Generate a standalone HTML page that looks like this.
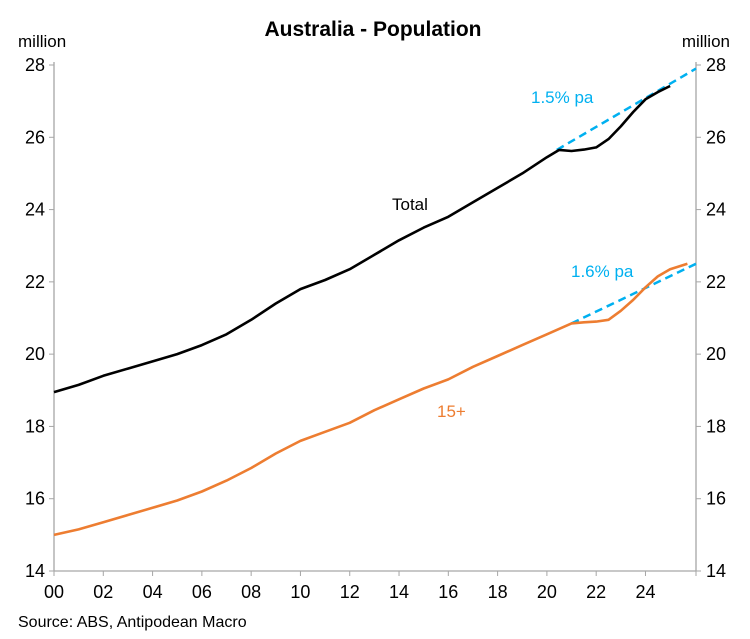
<!DOCTYPE html>
<html><head><meta charset="utf-8"><style>
html,body{margin:0;padding:0;background:#fff;}
svg{display:block;font-family:"Liberation Sans",Arial,sans-serif;}
</style></head><body>
<svg id="chart" width="750" height="639" viewBox="0 0 750 639">
<text x="373" y="36" text-anchor="middle" font-size="21" font-weight="bold">Australia - Population</text>
<text x="18" y="47" font-size="17">million</text>
<text x="730" y="47" font-size="17" text-anchor="end">million</text>
<g id="axes"></g>
<g id="series"></g>
<text x="392" y="210" font-size="17">Total</text>
<text x="437" y="417" font-size="17" fill="#ED7D31">15+</text>
<text x="531" y="103" font-size="17" fill="#00B0F0">1.5% pa</text>
<text x="571" y="277" font-size="17" fill="#00B0F0">1.6% pa</text>
<text x="18" y="627" font-size="16">Source: ABS, Antipodean Macro</text>
</svg>
<script>
const yTicks=[14,16,18,20,22,24,26,28];
const xTickYears=[0,2,4,6,8,10,12,14,16,18,20,22,24];
const xTickLabels=["00","02","04","06","08","10","12","14","16","18","20","22","24"];
const totalYears=[0,1,2,3,4,5,6,7,8,9,10,11,12,13,14,15,16,17,18,19,20,20.5,21,21.5,22,22.5,23,23.5,24,24.5,25];
const totalValues=[18.95,19.15,19.4,19.6,19.8,20.0,20.25,20.55,20.95,21.4,21.8,22.05,22.35,22.75,23.15,23.5,23.8,24.2,24.6,25.0,25.45,25.65,25.62,25.66,25.72,25.95,26.3,26.7,27.05,27.25,27.42];
const adultYears=[0,1,2,3,4,5,6,7,8,9,10,11,12,13,14,15,16,17,18,19,20,21,21.5,22,22.5,23,23.5,24,24.5,25,25.7];
const adultValues=[15.0,15.15,15.35,15.55,15.75,15.95,16.2,16.5,16.85,17.25,17.6,17.85,18.1,18.45,18.75,19.05,19.3,19.65,19.95,20.25,20.55,20.85,20.88,20.9,20.95,21.2,21.5,21.85,22.15,22.35,22.5];
const totalTrendYears=[20.4,26.05];
const totalTrendValues=[25.65,27.9];
const adultTrendYears=[21.0,26.05];
const adultTrendValues=[20.85,22.5];

const X0=54,X1=696,Y0=571,Y1=65,xmin=0,xmax=26.05,ymin=14,ymax=28;
const sx=v=>X0+(v-xmin)/(xmax-xmin)*(X1-X0);
const sy=v=>Y0-(v-ymin)/(ymax-ymin)*(Y0-Y1);
const NS="http://www.w3.org/2000/svg";
function mk(t,a,p){const e=document.createElementNS(NS,t);for(const k in a)e.setAttribute(k,a[k]);p.appendChild(e);return e;}
const ax=document.getElementById('axes'),se=document.getElementById('series');
let e;
e=mk('line',{x1:X0,y1:Y1-3,x2:X0,y2:Y0,stroke:'#a6a6a6','stroke-width':1.3},ax);


e=mk('line',{x1:X1,y1:Y1-3,x2:X1,y2:Y0,stroke:'#a6a6a6','stroke-width':1.3},ax);


e=mk('line',{x1:X0,y1:Y0,x2:X1,y2:Y0,stroke:'#a6a6a6','stroke-width':1.3},ax);


yTicks.forEach(v=>{
 mk('line',{x1:X0-5,y1:sy(v),x2:X0,y2:sy(v),stroke:'#a6a6a6'},ax);
 mk('line',{x1:X1,y1:sy(v),x2:X1+5,y2:sy(v),stroke:'#a6a6a6'},ax);
 let t=mk('text',{x:X0-9,y:sy(v)+6,'text-anchor':'end','font-size':18},ax);t.textContent=v;
 
 
 t=mk('text',{x:X1+10,y:sy(v)+6,'font-size':18},ax);t.textContent=v;
 
 
});
xTickYears.forEach((v,i)=>{
 mk('line',{x1:sx(v),y1:Y0,x2:sx(v),y2:Y0+5,stroke:'#a6a6a6'},ax);
 const t=mk('text',{x:sx(v),y:Y0+27,'text-anchor':'middle','font-size':18},ax);t.textContent=xTickLabels[i];
 
 
});
mk('line',{x1:X1,y1:Y0,x2:X1,y2:Y0+5,stroke:'#a6a6a6'},ax);
function line(xs,ys,color,w,dash,name){
 const d=xs.map((x,i)=>(i?'L':'M')+sx(x).toFixed(1)+','+sy(ys[i]).toFixed(1)).join('');
 const p=mk('path',{d:d,fill:'none',stroke:color,'stroke-width':w,'stroke-linejoin':'round'},se);
 if(dash)p.setAttribute('stroke-dasharray',dash);
 
 
}
line(totalTrendYears,totalTrendValues,'#00B0F0',2.5,'8,5','total-trend-line');
line(adultTrendYears,adultTrendValues,'#00B0F0',2.5,'8,5','age15-trend-line');
line(totalYears,totalValues,'#000',2.6,null,'total-population-line');
line(adultYears,adultValues,'#ED7D31',2.6,null,'age15-population-line');
</script>
</body></html>
